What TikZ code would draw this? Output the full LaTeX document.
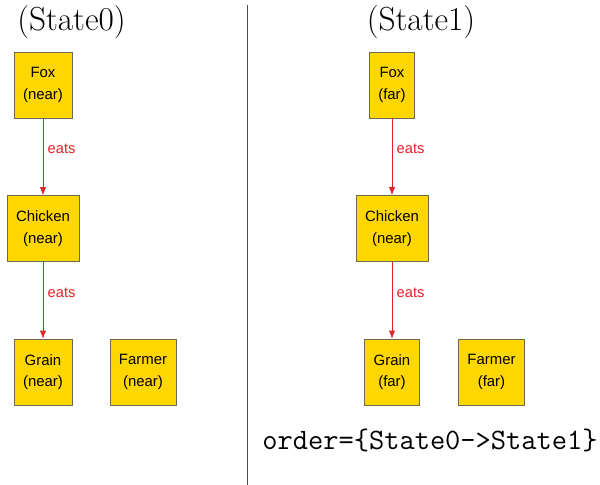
\documentclass[tikz,border=0pt]{standalone}
\usepackage{fontspec}
\setmainfont{Latin Modern Roman}
\newfontfamily\boxfont{Liberation Sans}
\usepackage{xcolor}
\usepackage{tikz}
\usetikzlibrary{positioning,arrows.meta}
\definecolor{boxgold}{HTML}{FFD700}
\definecolor{boxedge}{HTML}{6B6B50}
\definecolor{eatred}{HTML}{E8202A}
\tikzset{
  thing/.style={draw=boxedge, fill=boxgold, align=center, inner xsep=6.75pt,
    minimum height=49.5pt, font=\boxfont\fontsize{11.2}{16.2}\selectfont},
  eats/.style={eatred, -{Latex[length=6pt,width=4.5pt]}},
  eatlabel/.style={eatred, font=\boxfont\fontsize{11}{13}\selectfont, anchor=west},
  statetitle/.style={font=\fontsize{25}{28}\selectfont}
}
\begin{document}
\begin{tikzpicture}[x=0.75pt,y=-0.75pt]
\useasboundingbox (0,0) rectangle (600,485);
% separator
\draw[black!70] (247,5) -- (247,485);
% state 0
\node[statetitle] (title0) at (71.5,22) {(State0)};
\node[thing] (fox0) at (43,85) {Fox\\(near)};
\node[thing] (chicken0) at (43,228.5) {Chicken\\(near)};
\node[thing] (grain0) at (43,372) {Grain\\(near)};
\node[thing] (farmer0) at (143,372) {Farmer\\(near)};
\draw[eats] (fox0) -- node[eatlabel, pos=0.4]{eats} (chicken0);
\draw[eats] (chicken0) -- node[eatlabel, pos=0.4]{eats} (grain0);
% state 1
\node[statetitle] (title1) at (421,22) {(State1)};
\node[thing] (fox1) at (392,85) {Fox\\(far)};
\node[thing] (chicken1) at (392,228.5) {Chicken\\(near)};
\node[thing] (grain1) at (392,372) {Grain\\(far)};
\node[thing] (farmer1) at (491.5,372) {Farmer\\(far)};
\draw[eats] (fox1) -- node[eatlabel, pos=0.4]{eats} (chicken1);
\draw[eats] (chicken1) -- node[eatlabel, pos=0.4]{eats} (grain1);
% order
\node (order) at (430,440) {\fontsize{22.2}{26}\selectfont\ttfamily order=\{State0->State1\}};
\end{tikzpicture}
\end{document}
